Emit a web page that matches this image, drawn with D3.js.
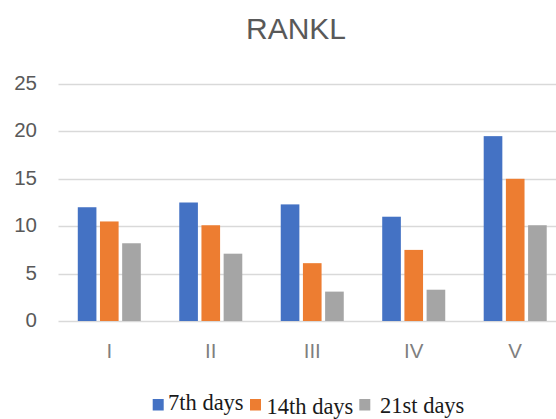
<!DOCTYPE html>
<html>
<head>
<meta charset="utf-8">
<script src="https://cdn.jsdelivr.net/npm/d3@7"></script>
<style>
  html, body { margin: 0; padding: 0; background: #fff; }
  svg { display: block; }
</style>
</head>
<body>
<svg id="chart" width="556" height="419"></svg>
<script>
const categories = ["I", "II", "III", "IV", "V"];
const seriesNames = ["7th days", "14th days", "21st days"];
const values7 = [12.0, 12.5, 12.3, 11.0, 19.5];
const values14 = [10.5, 10.1, 6.1, 7.5, 15.0];
const values21 = [8.2, 7.1, 3.1, 3.3, 10.1];
const yTicks = [0, 5, 10, 15, 20, 25];
const colors = ["#4472C4", "#ED7D31", "#A5A5A5"];

const seriesValues = [values7, values14, values21];
const svg = d3.select("#chart");

const plot = { left: 58.5, right: 566, top: 84, bottom: 321 };

const x0 = d3.scaleBand().domain(categories)
  .range([plot.left, plot.right]).paddingInner(0.379).paddingOuter(0.19);
const x1 = d3.scaleBand().domain(seriesNames)
  .range([0, x0.bandwidth()]).paddingInner(0.16).paddingOuter(0);
const y = d3.scaleLinear().domain([0, 25]).range([plot.bottom, plot.top]);

// gridlines
svg.append("g").selectAll("line").data(yTicks).join("line")
  .attr("x1", plot.left).attr("x2", plot.right)
  .attr("y1", d => Math.round(y(d)) + 0.5).attr("y2", d => Math.round(y(d)) + 0.5)
  .attr("stroke", "#D9D9D9").attr("stroke-width", 1.3);

// y tick labels
svg.append("g").selectAll("text").data(yTicks).join("text")
  .attr("x", 37).attr("y", d => y(d) + 6)
  .attr("text-anchor", "end")
  .attr("font-family", "Liberation Sans, Arial, sans-serif")
  .attr("font-size", 20.5).attr("fill", "#595959")
  .text(d => d);

// bars
const groups = svg.append("g").selectAll("g").data(categories).join("g")
  .attr("transform", d => `translate(${x0(d)},0)`);
groups.selectAll("rect")
  .data((c, i) => seriesNames.map((s, j) => ({ s, j, v: seriesValues[j][i] })))
  .join("rect")
  .attr("x", d => x1(d.s))
  .attr("width", x1.bandwidth())
  .attr("y", d => y(d.v))
  .attr("height", d => y(0) - y(d.v))
  .attr("fill", d => colors[d.j]);

// x labels
svg.append("g").selectAll("text").data(categories).join("text")
  .attr("x", d => x0(d) + x0.bandwidth() / 2).attr("y", 358)
  .attr("text-anchor", "middle")
  .attr("font-family", "Liberation Sans, Arial, sans-serif")
  .attr("font-size", 20.5).attr("fill", "#7F7F7F")
  .text(d => d);

// title
svg.append("text").attr("x", 296).attr("y", 39)
  .attr("text-anchor", "middle")
  .attr("font-family", "Liberation Sans, Arial, sans-serif")
  .attr("font-size", 30).attr("fill", "#595959")
  .text("RANKL");

// legend
const legend = svg.append("g");
const legendBase = [410, 413.5, 413];
const squareX = [152.7, 250, 359.3];
const textX = [168, 266.5, 380];
seriesNames.forEach((s, j) => {
  legend.append("rect").attr("x", squareX[j]).attr("y", 399)
    .attr("width", 11).attr("height", 11.5).attr("fill", colors[j]);
  legend.append("text").attr("x", textX[j]).attr("y", legendBase[j])
    .attr("font-family", "Liberation Serif, Times New Roman, serif")
    .attr("font-size", 22.5).attr("fill", "#1a1a1a")
    .text(s);
});
</script>
</body>
</html>
